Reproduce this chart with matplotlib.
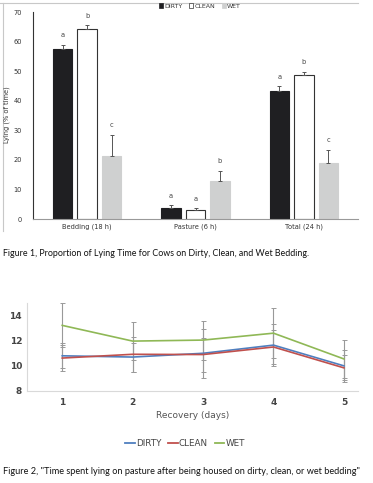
import matplotlib
matplotlib.use("Agg")
import matplotlib.pyplot as plt
from matplotlib.lines import Line2D
from matplotlib.patches import Patch
import numpy as np

# ---- Figure 1 data ----
categories = ["Bedding (18 h)", "Pasture (6 h)", "Total (24 h)"]
dirty_vals = [57.5, 3.8, 43.5]
dirty_err = [1.5, 0.8, 1.5]
clean_vals = [64.3, 3.0, 48.8]
clean_err = [1.3, 0.7, 1.0]
wet_vals = [21.3, 12.8, 19.1]
wet_err = [7.3, 3.5, 4.4]
dirty_sig = ["a", "a", "a"]
clean_sig = ["b", "a", "b"]
wet_sig = ["c", "b", "c"]
y1_ticks = [0, 10, 20, 30, 40, 50, 60, 70]

# ---- Figure 2 data ----
days = [1, 2, 3, 4, 5]
dirty_line = [10.8, 10.7, 11.0, 11.65, 10.0]
dirty_line_err = [1.0, 1.15, 1.95, 1.65, 1.3]
clean_line = [10.62, 10.92, 10.9, 11.5, 9.84]
clean_line_err = [1.0, 1.4, 1.35, 1.35, 1.0]
wet_line = [13.22, 11.97, 12.05, 12.6, 10.55]
wet_line_err = [1.75, 1.5, 1.55, 2.0, 1.5]
y2_ticks = [8, 10, 12, 14]

W, H = 373, 483
fig = plt.figure(figsize=(W / 100, H / 100), dpi=100)
fig.patch.set_facecolor("white")

def fx(px):
    return px / W

def fy(py):
    return 1 - py / H

# frame lines around top chart
fig.add_artist(Line2D([fx(0), fx(358)], [fy(3), fy(3)], color="#c8c8c8", lw=0.8))
fig.add_artist(Line2D([fx(3), fx(3)], [fy(3), fy(231)], color="#c8c8c8", lw=0.8))

# ---- Top chart ----
ax1 = fig.add_axes([fx(33), fy(219), fx(358) - fx(33), fy(12.3) - fy(219)])
x = np.arange(len(categories))
bw = 0.18
off = 0.226
series = [
    (dirty_vals, dirty_err, dirty_sig, "#1f1f22", "#1f1f22", -off),
    (clean_vals, clean_err, clean_sig, "white", "#333333", 0),
    (wet_vals, wet_err, wet_sig, "#cfd0d0", "#cfd0d0", off),
]
for vals, err, sig, fc, ec, o in series:
    ax1.bar(x + o, vals, width=bw, color=fc, edgecolor=ec, linewidth=0.8, zorder=2)
    ax1.errorbar(x + o, vals, yerr=[np.zeros(len(vals)), err], fmt="none",
                 ecolor="#555555", elinewidth=0.7, capsize=1.5, capthick=0.7, zorder=3)
    for xi, v, e, s in zip(x + o, vals, err, sig):
        ax1.text(xi, v + e + 2.2, s, ha="center", va="bottom", fontsize=4.8, color="#444444")
ax1.set_xlim(-0.5, 2.5)
ax1.set_ylim(0, 70)
ax1.set_yticks(y1_ticks)
ax1.set_xticks(x)
ax1.set_xticklabels(categories)
ax1.tick_params(axis="both", length=0, labelsize=4.8, colors="#333333", pad=3)
ax1.tick_params(axis="y", pad=8)
for s in ["top", "right"]:
    ax1.spines[s].set_visible(False)
ax1.spines["left"].set_color("#333333")
ax1.spines["left"].set_linewidth(0.8)
ax1.spines["bottom"].set_color("#999999")
ax1.spines["bottom"].set_linewidth(0.8)
fig.text(fx(7), fy(115), "Lying (% of time)", rotation=90, ha="center", va="center",
         fontsize=4.8, color="#333333")

# legend for top chart
handles = [Patch(facecolor="#1f1f22", edgecolor="#1f1f22", lw=0.5),
           Patch(facecolor="white", edgecolor="#333333", lw=0.5),
           Patch(facecolor="#cfd0d0", edgecolor="#cfd0d0", lw=0.5)]
fig.legend(handles, ["DIRTY", "CLEAN", "WET"], loc="center", bbox_to_anchor=(fx(200), fy(6)),
           ncol=3, frameon=False, fontsize=4.5, handlelength=0.7, handleheight=0.7,
           handletextpad=0.2, columnspacing=1.0, labelcolor="#333333")

fig.text(fx(3), fy(254), "Figure 1, Proportion of Lying Time for Cows on Dirty, Clean, and Wet Bedding.",
         ha="left", va="center", fontsize=6.4, color="#111111", family="Lato")

# ---- Bottom chart ----
ax2 = fig.add_axes([fx(27), fy(391), fx(358) - fx(27), fy(303) - fy(391)])
lines = [
    (dirty_line, dirty_line_err, "#4f7fbf", "DIRTY"),
    (clean_line, clean_line_err, "#c0504d", "CLEAN"),
    (wet_line, wet_line_err, "#8fb856", "WET"),
]
for vals, err, col, lab in lines:
    ax2.errorbar(days, vals, yerr=err, fmt="none", ecolor="#999999", elinewidth=0.8,
                 capsize=1.8, capthick=0.7, zorder=2)
for vals, err, col, lab in lines:
    ax2.plot(days, vals, color=col, lw=1.2, label=lab, zorder=3)
ax2.set_xlim(0.5, 5.2)
ax2.set_ylim(8, 15)
ax2.set_yticks(y2_ticks)
ax2.set_xticks(days)
ax2.tick_params(axis="both", length=0, labelsize=6.5, colors="#444444")
ax2.tick_params(axis="x", pad=5)
for lbl in ax2.get_xticklabels() + ax2.get_yticklabels():
    lbl.set_fontweight("bold")
for s in ["top", "right"]:
    ax2.spines[s].set_visible(False)
ax2.spines["left"].set_color("#d9d9d9")
ax2.spines["bottom"].set_color("#d9d9d9")
ax2.spines["left"].set_linewidth(0.8)
ax2.spines["bottom"].set_linewidth(0.8)
ax2.set_xlabel("Recovery (days)", fontsize=6.5, color="#555555", labelpad=3)
fig.legend(handles=[Line2D([0], [0], color=c, lw=1.3) for _, _, c, _ in lines],
           labels=[l for _, _, _, l in lines], loc="center", bbox_to_anchor=(fx(185), fy(444)),
           ncol=3, frameon=False, fontsize=6.3, handlelength=1.1, handletextpad=0.1,
           columnspacing=0.8, labelcolor="#444444")

fig.text(fx(3), fy(472), "Figure 2, \"Time spent lying on pasture after being housed on dirty, clean, or wet bedding\"",
         ha="left", va="center", fontsize=6.6, color="#111111", family="Lato")

fig.savefig("out.png", dpi=100, facecolor="white")
